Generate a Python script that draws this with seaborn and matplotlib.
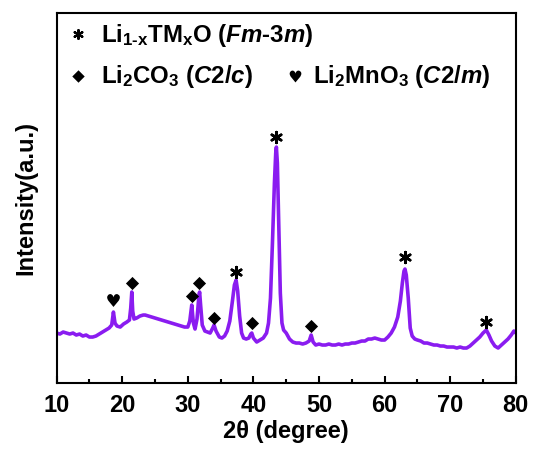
import matplotlib
matplotlib.use("Agg")
import matplotlib.pyplot as plt
import seaborn as sns
import pandas as pd
from matplotlib.path import Path
from matplotlib.textpath import TextPath
from matplotlib.font_manager import FontProperties
from matplotlib.ticker import MultipleLocator

# XRD pattern (2theta in degree, intensity in a.u.)
two_theta = [
    10.0, 10.5, 11.0, 11.5, 12.0, 12.5, 13.0, 13.5, 14.0, 14.5, 15.0, 15.5, 16.0,
    16.5, 17.0, 17.5, 18.0, 18.4, 18.66, 18.9, 19.2, 19.7, 20.2, 20.7, 21.1, 21.3,
    21.46, 21.6, 21.8, 22.2, 22.7, 23.2, 23.5, 24.0, 24.5, 25.0, 25.5, 26.0, 26.5,
    27.0, 27.5, 28.0, 28.5, 29.0, 29.5, 30.0, 30.3, 30.6, 30.85, 31.1, 31.4, 31.7,
    31.8, 31.95, 32.2, 32.6, 33.0, 33.4, 33.8, 34.0, 34.3, 34.8, 35.2, 35.6, 36.0,
    36.4, 36.8, 37.1, 37.36, 37.6, 37.9, 38.2, 38.5, 38.9, 39.3, 39.6, 39.75, 40.0,
    40.5, 41.0, 41.5, 42.0, 42.3, 42.6, 42.9, 43.2, 43.4, 43.5, 43.65, 43.85, 44.1,
    44.35, 44.6, 45.0, 45.5, 46.0, 46.5, 47.0, 47.5, 48.0, 48.5, 48.8, 49.1, 49.5,
    50.0, 50.5, 51.0, 51.5, 52.0, 52.5, 53.0, 53.5, 54.0, 54.5, 55.0, 55.5, 56.0,
    56.5, 57.0, 57.5, 58.0, 58.5, 59.0, 59.5, 60.0, 60.5, 61.0, 61.5, 62.0, 62.4,
    62.7, 62.95, 63.1, 63.3, 63.6, 63.9, 64.2, 64.6, 65.0, 65.5, 66.0, 66.5, 67.0,
    67.5, 68.0, 68.5, 69.0, 69.5, 70.0, 70.5, 71.0, 71.5, 72.0, 72.5, 73.0, 73.5,
    74.0, 74.5, 75.0, 75.5, 75.9, 76.3, 76.8, 77.3, 77.8, 78.3, 78.8, 79.3, 79.7,
    80.0,
]
intensity = [
    50, 49, 51, 50, 49, 50, 48, 49, 47, 48, 46, 46, 47,
    49, 51, 53, 55, 58, 71, 60, 57, 56, 59, 61, 63, 75,
    91, 72, 64, 65, 67, 68, 68, 67, 66, 65, 64, 63, 62,
    61, 60, 59, 58, 57, 56, 56, 62, 78, 60, 54, 64, 88,
    91, 78, 58, 52, 51, 50, 55, 58, 52, 46, 45, 47, 52,
    62, 82, 98, 103, 92, 67, 50, 45, 44, 45, 49, 50, 45,
    41, 43, 45, 50, 60, 85, 140, 200, 230, 236, 220, 160, 90,
    60, 53, 50, 44, 41, 40, 40, 39, 40, 42, 48, 41, 38,
    39, 38, 38, 39, 38, 38, 39, 38, 39, 39, 40, 40, 41,
    42, 42, 44, 44, 45, 44, 43, 43, 46, 50, 56, 66, 82,
    100, 112, 114, 108, 85, 55, 47, 44, 43, 42, 40, 40, 39,
    38, 38, 37, 37, 36, 36, 36, 35, 36, 35, 35, 37, 40,
    43, 46, 50, 53, 48, 42, 37, 35, 38, 41, 44, 48, 52,
    50,
]

# phase markers: peak position and label height
fm3m_pos = [37.36, 43.5, 63.1, 75.5]
fm3m_h = [111, 246, 126, 61]
li2co3_pos = [21.46, 30.6, 31.77, 34.0, 39.75, 48.8]
li2co3_h = [100, 87, 100, 65, 60, 57]
li2mno3_pos = [18.66]
li2mno3_h = [83]

x_ticks = [10, 20, 30, 40, 50, 60, 70, 80]

LINE_COLOR = "#8a1cf0"

sns.set_style("ticks")
plt.rcParams["font.family"] = ["Liberation Sans", "DejaVu Sans"]
plt.rcParams["font.weight"] = "bold"
plt.rcParams["text.color"] = "black"
plt.rcParams["axes.labelcolor"] = "black"
plt.rcParams["xtick.color"] = "black"
plt.rcParams["mathtext.fontset"] = "custom"
plt.rcParams["mathtext.rm"] = "Liberation Sans:bold"
plt.rcParams["mathtext.it"] = "Liberation Sans:bold:italic"
plt.rcParams["mathtext.bf"] = "Liberation Sans:bold"
plt.rcParams["mathtext.default"] = "rm"

fig = plt.figure(figsize=(5.34, 4.53), dpi=100)
ax = fig.add_axes([0.106, 0.1545, 0.86, 0.8165])

df = pd.DataFrame({"two_theta": two_theta, "intensity": intensity})
sns.lineplot(data=df, x="two_theta", y="intensity", ax=ax, color=LINE_COLOR,
             linewidth=2.6, estimator=None, sort=False)

# heart marker built from the glyph, centred on its own box
heart = TextPath((0, 0), "\u2665", prop=FontProperties(family="DejaVu Sans"))
ext = heart.get_extents()
heart = Path(heart.vertices - [(ext.x0 + ext.x1) / 2, (ext.y0 + ext.y1) / 2],
             heart.codes)
asterisk = (6, 2, 0)

ax.scatter(fm3m_pos, fm3m_h, marker=asterisk, s=60, color="black",
           linewidths=1.9, zorder=3)
ax.scatter(li2co3_pos, li2co3_h, marker="D", s=45, color="black",
           linewidths=0, zorder=3)
ax.scatter(li2mno3_pos, li2mno3_h, marker=heart, s=130, color="black",
           linewidths=0, zorder=3)

# legend written inside the frame
ax.scatter([13.3], [349], marker=asterisk, s=40, color="black", linewidths=1.6)
ax.scatter([13.3], [307], marker="D", s=40, color="black", linewidths=0)
ax.scatter([46.4], [307], marker=heart, s=110, color="black", linewidths=0)
ax.text(16.8, 341.5, r"Li$_{1\text{-}x}$TM$_x$O ($\mathit{Fm}$-$\mathit{3m}$)",
        fontsize=17.3, fontweight="bold", va="baseline")
ax.text(16.8, 300.5, r"Li$_2$CO$_3$ ($\mathit{C2/c}$)",
        fontsize=17.3, fontweight="bold", va="baseline")
ax.text(49.1, 300.5, r"Li$_2$MnO$_3$ ($\mathit{C2/m}$)",
        fontsize=17.3, fontweight="bold", va="baseline")

ax.set_xlim(10, 80)
ax.set_ylim(0, 370)
ax.set_xticks(x_ticks)
ax.xaxis.set_minor_locator(MultipleLocator(5))
ax.set_yticks([])
ax.tick_params(axis="x", which="major", direction="in", length=5, width=1.5,
               labelsize=17, pad=8, top=False, colors="black")
ax.tick_params(axis="x", which="minor", direction="in", length=3, width=1.5,
               top=False, colors="black")
for lab in ax.get_xticklabels():
    lab.set_fontweight("bold")
for side in ["left", "right", "top", "bottom"]:
    ax.spines[side].set_visible(True)
    ax.spines[side].set_linewidth(1.5)
    ax.spines[side].set_color("black")

ax.set_xlabel("2\u03b8 (degree)", fontsize=17, fontweight="bold", labelpad=2)
ax.set_ylabel("Intensity(a.u.)", fontsize=17, fontweight="bold", labelpad=14)

fig.savefig("out.png", dpi=100)
